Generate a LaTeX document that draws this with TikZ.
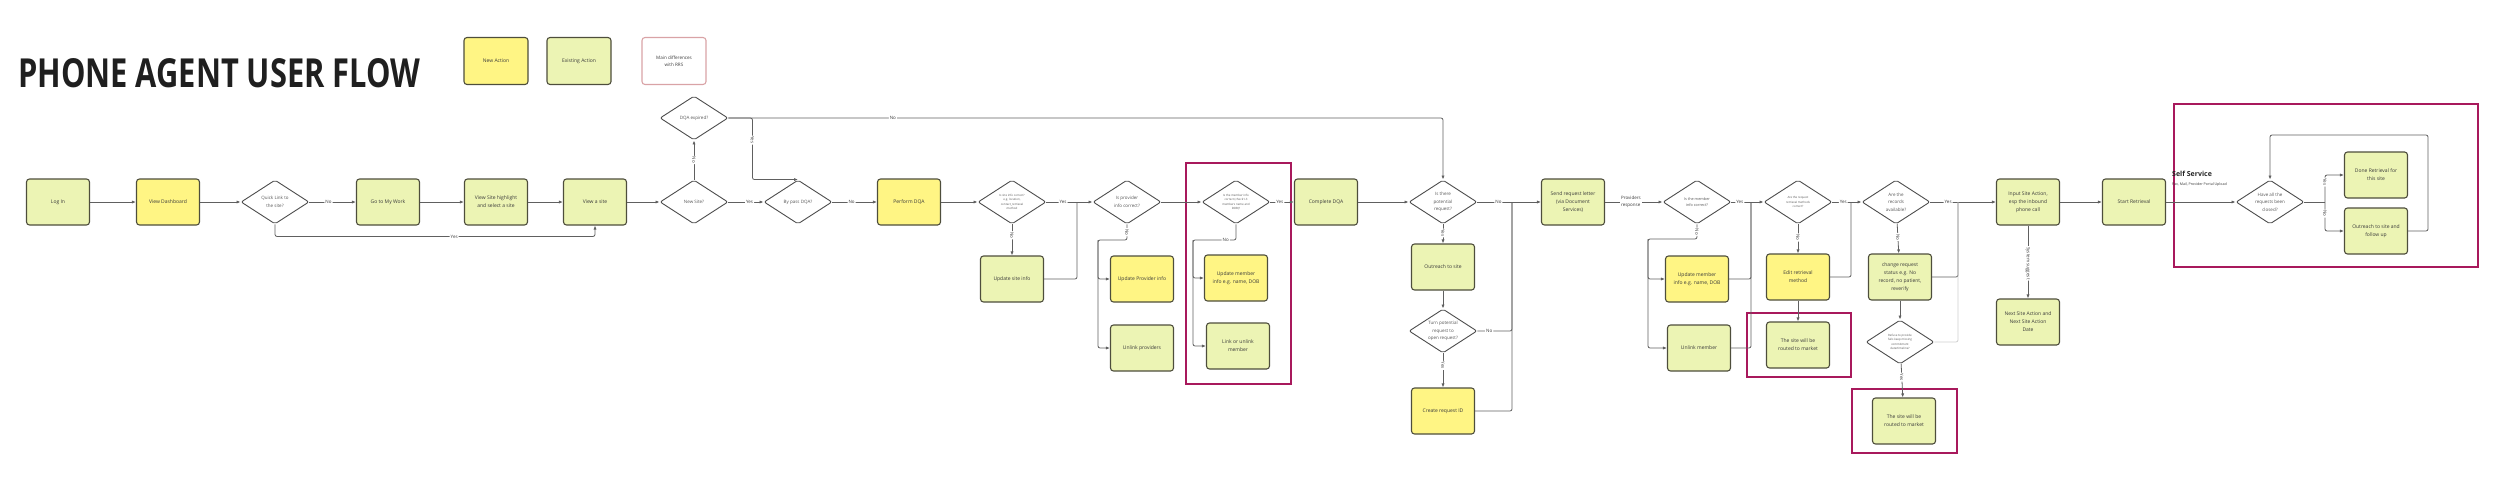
\documentclass[tikz,border=0pt]{standalone}
\usepackage{fontspec}
\setmainfont{Open Sans}
\usepackage{graphicx}
\usetikzlibrary{arrows.meta,shapes.geometric,calc}
\definecolor{newact}{HTML}{FFF584}
\definecolor{oldact}{HTML}{ECF4B4}
\definecolor{boxline}{HTML}{4E4E3C}
\definecolor{wire}{HTML}{606060}
\definecolor{txt}{HTML}{3A3A3A}
\definecolor{diffred}{HTML}{A8195C}
\definecolor{diffpale}{HTML}{D9A3A6}
\tikzset{
  actbox/.style={
    rectangle, rounded corners=3pt, draw=boxline, fill=#1, line width=1.1pt,
    minimum width=63pt, minimum height=46pt, inner sep=2pt,
    align=center, text=txt, font=\fontsize{5}{8}\selectfont
  },
  actbox/.default=oldact,
  decision/.style={
    diamond, aspect=1.5, draw=wire!80!black, fill=white, line width=0.9pt,
    rounded corners=2pt, minimum width=68pt, minimum height=44pt, inner sep=0pt,
    align=center, text=txt!85, font=\fontsize{4.5}{7.5}\selectfont
  },
  tinytext/.style={font=\fontsize{2.9}{4.5}\selectfont},
  flowarrow/.style={
    -{Latex[length=4pt,width=3.2pt]}, draw=wire, line width=0.8pt, rounded corners=2pt
  },
  flowline/.style={draw=wire, line width=0.8pt, rounded corners=2pt},
  flowlabel/.style={fill=white, inner sep=1pt, text=txt, font=\fontsize{4.5}{5.5}\selectfont},
  diffbox/.style={draw=diffred, line width=1.5pt},
}

\begin{document}
\begin{tikzpicture}[x=1pt, y=-1pt]
  \useasboundingbox (0,0) rectangle (2500,490);

  % Title and legend
  \node[anchor=west, inner sep=0pt, text=black!88, font=\fontsize{40}{40}\selectfont\bfseries] (title) at (18,73)
    {\scalebox{0.77}[1]{PHONE AGENT USER FLOW}};
  \node[actbox=newact, minimum width=64pt, minimum height=47pt] (legnew) at (496,61) {New Action};
  \node[actbox, minimum width=64pt, minimum height=47pt] (legold) at (579,61) {Existing Action};
  \node[rectangle, rounded corners=3pt, draw=diffpale, line width=1.1pt, minimum width=64pt, minimum height=47pt,
        align=center, text=txt, font=\fontsize{4.6}{7}\selectfont] (legdiff) at (674,61) {Main differences\\with RRS};

  % Highlighted differences
  \draw[diffbox] (1186,163) rectangle (1291,384);
  \draw[diffbox] (1747,313) rectangle (1851,377);
  \draw[diffbox] (1852,389) rectangle (1957,453);
  \draw[diffbox] (2174,104) rectangle (2478,267);
  \node[anchor=west, inner sep=0pt, text=black!85, font=\fontsize{7}{8}\selectfont\bfseries] (selfsvc) at (2172,174) {Self Service};
  \node[anchor=west, inner sep=0pt, text=txt, font=\fontsize{3.6}{4}\selectfont] (selfsvcsub) at (2172,185) {Fax, Mail, Provider Portal Upload};

  % Entry
  \node[actbox] (login) at (58,202) {Log In};
  \node[actbox=newact] (dash) at (168,202) {View Dashboard};
  \node[decision] (quick) at (275,202) {Quick Link to\\the site?};
  \node[actbox] (mywork) at (388,202) {Go to My Work};
  \node[actbox] (highlight) at (496,202) {View Site highlight\\and select a site};
  \node[actbox] (viewsite) at (595,202) {View a site};
  \node[decision] (newsite) at (694,202) {New Site?};
  \node[decision] (dqaexp) at (694,118) {DQA expired?};
  \node[decision] (bypass) at (798,202) {By pass DQA?};

  % DQA
  \node[actbox=newact] (dqa) at (909,202) {Perform DQA};
  \node[decision, tinytext] (siteok) at (1012,202) {Is site info correct?\\e.g. location,\\contact\_retrieval\\method};
  \node[actbox] (updsite) at (1012,279) {Update site info};
  \node[decision] (provok) at (1127,202) {Is provider\\info correct?};
  \node[actbox=newact] (updprov) at (1142,279) {Update Provider info};
  \node[actbox] (unlinkprov) at (1142,348) {Unlink providers};
  \node[decision, tinytext] (memok) at (1236,202) {Is the member info\\correct (check1-3\\members name and\\DOB)?};
  \node[actbox=newact] (updmem) at (1236,278) {Update member\\info e.g. name, DOB};
  \node[actbox] (linkmem) at (1238,346) {Link or unlink\\member};
  \node[actbox] (donedqa) at (1326,202) {Complete DQA};

  % Requests
  \node[decision] (potential) at (1443,202) {Is there\\potential\\request?};
  \node[actbox] (outreach) at (1443,267) {Outreach to site};
  \node[decision] (turnreq) at (1443,331) {Turn potential\\request to\\open request?};
  \node[actbox=newact] (reqid) at (1443,411) {Create request ID};
  \node[actbox] (letter) at (1573,202) {Send request letter\\(via Document\\Services)};

  % Provider response
  \node[decision, font=\fontsize{3.8}{6}\selectfont] (memok2) at (1697,202) {Is the member\\info correct?};
  \node[actbox=newact] (updmem2) at (1697,279) {Update member\\info e.g. name, DOB};
  \node[actbox] (unlinkmem) at (1699,348) {Unlink member};
  \node[decision, tinytext] (retrok) at (1798,202) {Are the request\\retrieval methods\\correct?};
  \node[actbox=newact] (editretr) at (1798,277) {Edit retrieval\\method};
  \node[actbox] (market1) at (1798,345) {The site will be\\routed to market};
  \node[decision] (records) at (1896,202) {Are the\\records\\available?};
  \node[actbox] (chgreq) at (1900,277) {change request\\status e.g. No\\record, no patient,\\reverify};
  \node[decision, tinytext] (refuse) at (1900,342) {Refuse to provide\\fails keep missing\\commitment\\date/timeline?};
  \node[actbox] (market2) at (1904,421) {The site will be\\routed to market};

  % Retrieval
  \node[actbox] (siteaction) at (2028,202) {Input Site Action,\\esp the inbound\\phone call};
  \node[actbox] (nextaction) at (2028,322) {Next Site Action and\\Next Site Action\\Date};
  \node[actbox] (startret) at (2134,202) {Start Retrieval};
  \node[decision] (allclosed) at (2270,202) {Have all the\\requests been\\closed?};
  \node[actbox] (doneret) at (2376,175) {Done Retrieval for\\this site};
  \node[actbox] (followup) at (2376,231) {Outreach to site and\\follow up};

  % Junctions
  \coordinate (jsite) at (1077,202);
  \coordinate (jprov) at (1098,240);
  \coordinate (jmemno) at (1193,240);
  \coordinate (jreq) at (1512,202);
  \coordinate (jmem2no) at (1648,239);
  \coordinate (jmem) at (1751,202);
  \coordinate (jretr) at (1851,202);
  \coordinate (jrec) at (1958,202);
  \coordinate (jclose) at (2325,202);
  \coordinate (jloop) at (2428,135);

  % Entry connectors
  \draw[flowarrow] (login) -- (dash);
  \draw[flowarrow] (dash) -- (quick);
  \draw[flowarrow] (quick) -- node[flowlabel, pos=0.41]{No} (mywork);
  \draw[flowarrow] (quick.south) -- ++(0,12) -| node[flowlabel, pos=0.28]{Yes} (viewsite.south);
  \draw[flowarrow] (mywork) -- (highlight);
  \draw[flowarrow] (highlight) -- (viewsite);
  \draw[flowarrow] (viewsite) -- (newsite);
  \draw[flowarrow] (newsite) -- node[flowlabel, pos=0.6]{Yes} (bypass);
  \draw[flowarrow] (newsite) -- node[flowlabel, rotate=-90]{No} (dqaexp);
  \draw[flowarrow] (dqaexp.east) -- ++(24,0) |- node[flowlabel, rotate=-90, pos=0.18]{Yes} (bypass.north);
  \draw[flowarrow] (dqaexp.east) -| node[flowlabel, pos=0.115]{No} (potential.north);

  % DQA connectors
  \draw[flowarrow] (bypass) -- node[flowlabel, pos=0.43]{No} (dqa);
  \draw[flowarrow] (dqa) -- (siteok);
  \draw[flowarrow] (siteok) -- node[flowlabel, pos=0.36]{Yes} (provok);
  \draw[flowarrow] (siteok) -- node[flowlabel, rotate=-90, pos=0.35]{No} (updsite);
  \draw[flowline] (updsite.east) -| (jsite);
  \draw[flowarrow] (provok.south) -- node[flowlabel, rotate=-90, pos=0.5]{No} (provok.south |- jprov) -- (jprov) |- (unlinkprov.west);
  \draw[flowarrow] (jprov) |- (updprov.west);
  \draw[flowarrow] (provok) -- (memok);
  \draw[flowarrow] (memok.south) |- node[flowlabel, pos=0.62]{No} (jmemno) |- (linkmem.west);
  \draw[flowarrow] (jmemno) |- (updmem.west);
  \draw[flowarrow] (memok) -- node[flowlabel, pos=0.4]{Yes} (donedqa);
  \draw[flowarrow] (donedqa) -- (potential);

  % Request connectors
  \draw[flowarrow] (potential) -- node[flowlabel, rotate=-90, pos=0.45]{Yes} (outreach);
  \draw[flowarrow] (outreach) -- (turnreq);
  \draw[flowarrow] (turnreq) -- node[flowlabel, rotate=-90, pos=0.35]{Yes} (reqid);
  \draw[flowarrow] (potential) -- node[flowlabel, pos=0.33]{No} (letter);
  \draw[flowline] (turnreq.east) -| node[flowlabel, pos=0.17]{No} (jreq);
  \draw[flowline] (reqid.east) -| (jreq);
  \draw[flowarrow] (letter) -- node[flowlabel, align=left, pos=0.45, font=\fontsize{4.5}{7}\selectfont]{Providers\\response} (memok2);

  % Provider response connectors
  \draw[flowarrow] (memok2.south) -- node[flowlabel, rotate=-90, pos=0.5]{No} (memok2.south |- jmem2no) -- (jmem2no) |- (unlinkmem.west);
  \draw[flowarrow] (jmem2no) |- (updmem2.west);
  \draw[flowarrow] (memok2) -- node[flowlabel, pos=0.26]{Yes} (retrok);
  \draw[flowline] (updmem2.east) -| (jmem);
  \draw[flowline] (unlinkmem.east) -| (jmem);
  \draw[flowarrow] (retrok) -- node[flowlabel, rotate=-90, pos=0.45]{No} (editretr);
  \draw[flowarrow] (editretr) -- (market1);
  \draw[flowarrow] (retrok) -- node[flowlabel, pos=0.37]{Yes} (records);
  \draw[flowline] (editretr.east) -| (jretr);
  \draw[flowarrow] (records) -- node[flowlabel, rotate=-90, pos=0.45]{No} (chgreq);
  \draw[flowarrow] (chgreq) -- (refuse);
  \draw[flowarrow] (refuse) -- node[flowlabel, rotate=-90, pos=0.4]{Yes} (market2);
  \draw[flowarrow] (records) -- node[flowlabel, pos=0.27]{Yes} (siteaction);
  \draw[flowline] (chgreq.east) -| (jrec);
  \draw[flowline, draw=wire!30] (refuse.east) -| (jrec);

  % Retrieval connectors
  \draw[flowarrow] (siteaction) -- node[flowlabel, rotate=-90, pos=0.52]{System suggest} (nextaction);
  \draw[flowarrow] (siteaction) -- (startret);
  \draw[flowarrow] (startret) -- (allclosed);
  \draw[flowline] (allclosed.east) -- (jclose);
  \draw[flowarrow] (jclose) |- node[flowlabel, rotate=-90, pos=0.37]{Yes} (doneret.west);
  \draw[flowarrow] (jclose) |- node[flowlabel, rotate=-90, pos=0.2]{No} (followup.west);
  \draw[flowarrow] (followup.east) -| (jloop) -| (allclosed.north);
\end{tikzpicture}
\end{document}
